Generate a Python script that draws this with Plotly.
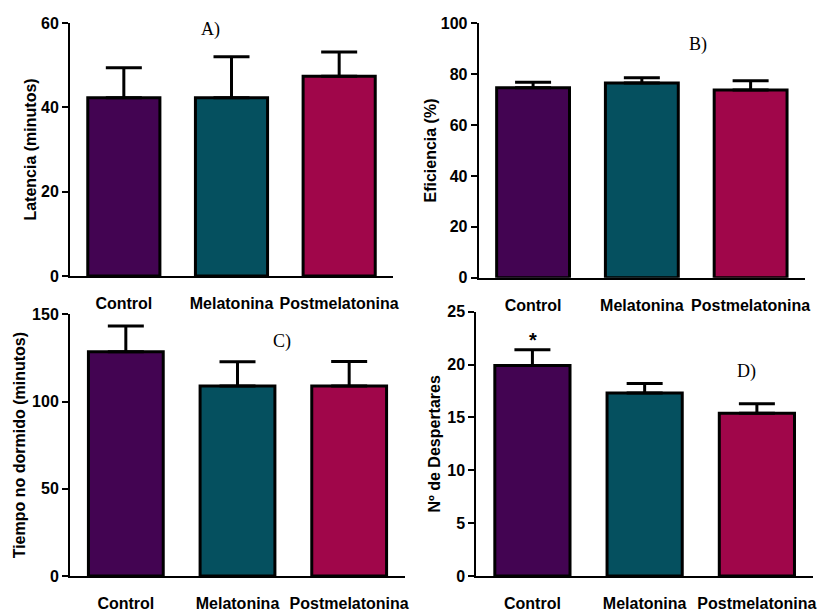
import plotly.graph_objects as go

categories = ["Control", "Melatonina", "Postmelatonina"]
colors = ["#430452", "#05505F", "#A0064A"]

latencia_mean = [42.3, 42.3, 47.4]
latencia_err = [7.1, 9.7, 5.7]
eficiencia_mean = [74.7, 76.5, 73.8]
eficiencia_err = [2.1, 2.1, 3.6]
tiempo_mean = [128.6, 108.9, 108.9]
tiempo_err = [14.7, 13.9, 14.1]
despertares_mean = [19.9, 17.3, 15.4]
despertares_err = [1.5, 0.9, 0.9]

panels = [
    dict(mean=latencia_mean, err=latencia_err, title="Latencia (minutos)", rng=[0, 60], dtick=20,
         xd=[70, 393], yd=[276, 23], standoff=0, label="A)", lpos=(210, 29)),
    dict(mean=eficiencia_mean, err=eficiencia_err, title="Eficiencia (%)", rng=[0, 100], dtick=20,
         xd=[478.7, 805], yd=[277.7, 23.3], standoff=0, label="B)", lpos=(698, 45)),
    dict(mean=tiempo_mean, err=tiempo_err, title="Tiempo no dormido (minutos)", rng=[0, 150], dtick=50,
         xd=[70, 405], yd=[576, 314.3], standoff=2, label="C)", lpos=(282, 341)),
    dict(mean=despertares_mean, err=despertares_err, title="Nº de Despertares", rng=[0, 25], dtick=5,
         xd=[476.3, 813], yd=[576, 311.7], standoff=3, label="D)", lpos=(746, 372)),
]

W, H = 826, 612
SANS = "Liberation Sans, Arial, sans-serif"
SERIF = "Liberation Serif, Times New Roman, serif"

fig = go.Figure()
annotations = []
for i, p in enumerate(panels, start=1):
    xa = "x" if i == 1 else f"x{i}"
    ya = "y" if i == 1 else f"y{i}"
    fig.add_trace(go.Bar(
        x=categories, y=p["mean"], width=0.67,
        marker=dict(color=colors, line=dict(color="black", width=3)),
        error_y=dict(type="data", symmetric=False, array=p["err"], arrayminus=[0, 0, 0],
                     color="black", thickness=3, width=18),
        xaxis=xa, yaxis=ya, showlegend=False, hoverinfo="skip",
    ))
    xkey = "xaxis" if i == 1 else f"xaxis{i}"
    ykey = "yaxis" if i == 1 else f"yaxis{i}"
    fig.update_layout(**{
        xkey: dict(domain=[p["xd"][0] / W, p["xd"][1] / W], anchor=ya, range=[-0.5, 2.5],
                   showline=True, linecolor="black", linewidth=2, ticks="", showgrid=False,
                   zeroline=False, ticklabelstandoff=12, automargin=False,
                   tickfont=dict(family=SANS, size=16, color="black", weight="bold")),
        ykey: dict(domain=[1 - p["yd"][0] / H, 1 - p["yd"][1] / H], anchor=xa, range=p["rng"],
                   dtick=p["dtick"], showline=True, linecolor="black", linewidth=2,
                   ticks="outside", ticklen=6, tickwidth=2, tickcolor="black",
                   showgrid=False, zeroline=False, automargin=False,
                   tickfont=dict(family=SANS, size=16, color="black", weight="bold"),
                   title=dict(text=p["title"], standoff=p["standoff"],
                              font=dict(family=SANS, size=16, color="black", weight="bold"))),
    })
    annotations.append(dict(text=p["label"], x=p["lpos"][0] / W, y=1 - p["lpos"][1] / H,
                            xref="paper", yref="paper", showarrow=False,
                            xanchor="center", yanchor="middle",
                            font=dict(family=SERIF, size=18, color="black")))

annotations.append(dict(text="*", x=533 / W, y=1 - 340 / H, xref="paper", yref="paper",
                        showarrow=False, xanchor="center", yanchor="middle",
                        font=dict(family=SANS, size=20, color="black", weight="bold")))

fig.update_layout(width=W, height=H, margin=dict(l=0, r=0, t=0, b=0, autoexpand=False),
                  paper_bgcolor="white", plot_bgcolor="white",
                  annotations=annotations, bargap=0.33)

fig.write_html("out.html", config={"displayModeBar": False},
               post_script="document.body.style.margin='0';document.body.style.overflow='hidden';")
